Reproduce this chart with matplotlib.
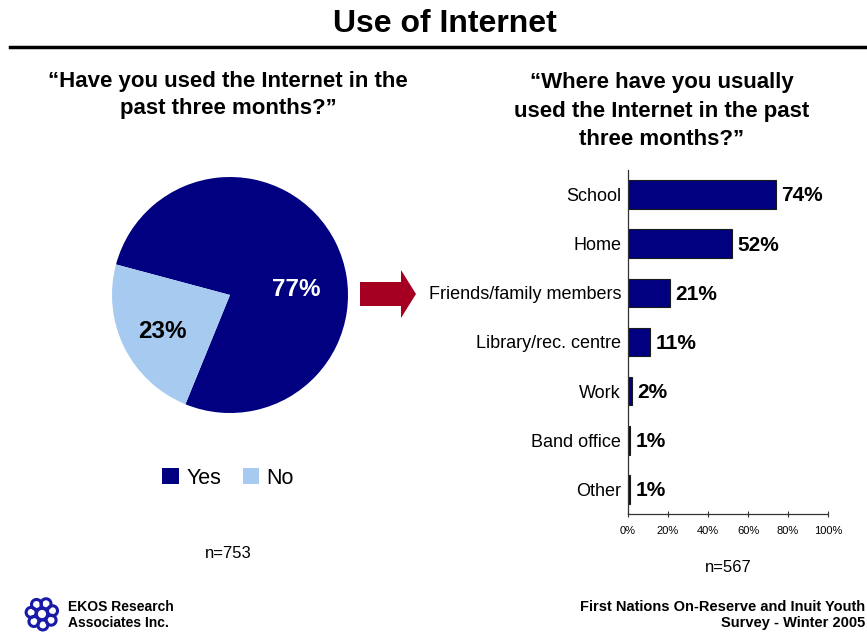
import math
import matplotlib
matplotlib.use("Agg")
import matplotlib.pyplot as plt
from matplotlib.patches import FancyArrow, Circle
from matplotlib.transforms import IdentityTransform

plt.rcParams['font.family'] = ['Liberation Sans', 'DejaVu Sans']

# Pie: "Have you used the Internet in the past three months?"
pie_labels = ["Yes", "No"]
pie_values = [77, 23]
pie_colors = ["#000080", "#A6CAF0"]

# Bars: "Where have you usually used the Internet in the past three months?"
places = ["School", "Home", "Friends/family members", "Library/rec. centre",
          "Work", "Band office", "Other"]
place_pct = [74, 52, 21, 11, 2, 1, 1]
x_ticks = [0, 20, 40, 60, 80, 100]

W, H = 867, 632
fig = plt.figure(figsize=(W / 100, H / 100), dpi=100)


def fx(px):
    return px / W


def fy(py):
    return 1 - py / H


# Title and rule
fig.text(fx(445), fy(24), "Use of Internet", ha="center", va="center",
         fontsize=23, fontweight="bold")
fig.add_artist(plt.Line2D([fx(10), 1.0], [fy(47), fy(47)], color="black", lw=2.5))

# Question headings
fig.text(fx(228), fy(95), "\u201cHave you used the Internet in the\npast three months?\u201d",
         ha="center", va="center", fontsize=16, fontweight="bold", linespacing=1.36)
fig.text(fx(662), fy(111), "\u201cWhere have you usually\nused the Internet in the past\nthree months?\u201d",
         ha="center", va="center", fontsize=16, fontweight="bold", linespacing=1.48)

# Pie chart
ax_pie = fig.add_axes([fx(112), fy(413), fx(236), 236 / H])
wedges, _ = ax_pie.pie(pie_values, colors=pie_colors, startangle=165,
                       counterclock=False, radius=1.0,
                       wedgeprops=dict(linewidth=0))
ax_pie.set_xlim(-1, 1)
ax_pie.set_ylim(-1, 1)
ax_pie.set_aspect("equal")
ax_pie.text(0.56, 0.05, f"{pie_values[0]}%", color="white", fontsize=17.5,
            fontweight="bold", ha="center", va="center")
ax_pie.text(-0.57, -0.31, f"{pie_values[1]}%", color="black", fontsize=17.5,
            fontweight="bold", ha="center", va="center")

# Pie legend
leg = fig.legend(wedges, pie_labels, loc="center", bbox_to_anchor=(fx(228), fy(478)),
                 ncol=2, frameon=False, fontsize=15.5, handlelength=0.75,
                 handleheight=0.75, handletextpad=0.35, columnspacing=1.0)
fig.text(fx(228), fy(554), "n=753", ha="center", va="center", fontsize=12)

# Arrow between the charts
fig.add_artist(FancyArrow(fx(360), fy(294), fx(41), 0, width=24 / H,
                          head_width=48 / H, head_length=fx(15),
                          length_includes_head=False, color="#A50021",
                          transform=fig.transFigure, linewidth=0))

# Bar chart
ax_bar = fig.add_axes([fx(628), fy(514), fx(200), 344 / H])
ypos = list(range(len(places)))
ax_bar.barh(ypos, place_pct, height=0.58, color="#000080",
            edgecolor="#1a1a1a", linewidth=0.8)
ax_bar.set_ylim(len(places) - 0.5, -0.5)
ax_bar.set_xlim(0, 100)
ax_bar.set_yticks(ypos)
ax_bar.set_yticklabels(places, fontsize=13)
ax_bar.tick_params(axis="y", length=0, pad=5)
ax_bar.set_xticks(x_ticks)
ax_bar.set_xticklabels([f"{t}%" for t in x_ticks], fontsize=8)
ax_bar.tick_params(axis="x", direction="inout", length=5, width=0.8,
                   color="#333333", pad=6)
for side in ("top", "right"):
    ax_bar.spines[side].set_visible(False)
for side in ("left", "bottom"):
    ax_bar.spines[side].set_color("#333333")
    ax_bar.spines[side].set_linewidth(0.9)
for y, v in zip(ypos, place_pct):
    ax_bar.annotate(f"{v}%", (v, y), xytext=(4, -1), textcoords="offset points",
                    ha="left", va="center", fontsize=15, fontweight="bold")
fig.text(fx(728), fy(568), "n=567", ha="center", va="center", fontsize=12)

# Footer: logo mark (in pixel coordinates) and credits
cx, cy = 42, H - 614
for k in range(7):
    a = 2 * math.pi * k / 7 + 0.3
    fig.add_artist(Circle((cx + 11 * math.cos(a), cy + 11 * math.sin(a)), 5.0,
                          transform=IdentityTransform(), fill=False,
                          edgecolor="#1a1aa8", linewidth=2.2))
fig.add_artist(Circle((cx, cy), 5.5, transform=IdentityTransform(), fill=False,
                      edgecolor="#1a1aa8", linewidth=2.0))
fig.text(fx(68), fy(615), "EKOS Research\nAssociates Inc.", ha="left", va="center",
         fontsize=10, fontweight="bold", linespacing=1.25)
fig.text(fx(865), fy(615), "First Nations On-Reserve and Inuit Youth\nSurvey - Winter 2005",
         ha="right", va="center", fontsize=10.5, fontweight="bold", linespacing=1.2,
         multialignment="right")

fig.savefig("out.png", dpi=100)
